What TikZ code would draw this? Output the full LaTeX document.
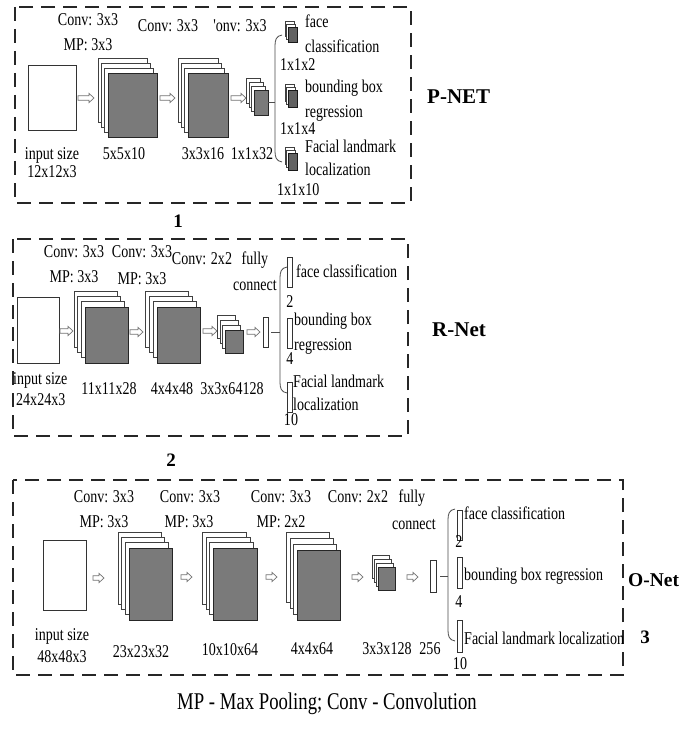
\documentclass[tikz,border=0pt]{standalone}
\usepackage{fontspec}
\setmainfont{Liberation Serif}
\newfontfamily\bodyf{Liberation Serif}[FakeStretch=0.78]
\usetikzlibrary{fit}

\newcommand\layerstack[8]{% name, x1, y1, x2, y2, back layers, dx, dy
  \foreach \k in {#6,...,1}{\draw[backlayer] ({#2-\k*#7},{#3-\k*#8}) rectangle ({#4-\k*#7},{#5-\k*#8});}
  \node[frontlayer, fit={(#2,#3) (#4,#5)}] (#1) {};
}
\newcommand\harrow[3]{% x1, x2, y
  \draw[harr] (#1,{#3-2.2}) -- ({#2-5},{#3-2.2}) -- ({#2-5},{#3-4.6}) -- (#2,#3) -- ({#2-5},{#3+4.6}) -- ({#2-5},{#3+2.2}) -- (#1,{#3+2.2}) -- cycle;
}
\newcommand\brk[3]{% x, ytop, ybot
  \draw[brace] ({#1+7},#2) .. controls ({#1+1},{#2+1}) and (#1,{#2+5}) .. (#1,{#2+11}) -- (#1,{#3-11}) .. controls (#1,{#3-5}) and ({#1+1},{#3-1}) .. ({#1+7},#3);
}

\begin{document}
\begin{tikzpicture}[x=1pt,y=-1pt,
 netbox/.style={draw=black!85, line width=2.1pt, dash pattern=on 14pt off 8pt},
 txt/.style={font=\bodyf\fontsize{18}{20}\selectfont, inner sep=0pt, text height=0.68em, text depth=0.2em},
 ttl/.style={font=\fontsize{21}{24}\selectfont\bfseries, inner sep=0pt, anchor=west},
 num/.style={font=\fontsize{19}{22}\selectfont\bfseries, inner sep=0pt},
 inbox/.style={draw=black!80, fill=white, line width=0.9pt, inner sep=0pt},
 backlayer/.style={draw=black!75, fill=white, line width=0.7pt},
 frontlayer/.style={draw=black!85, fill=black!52, line width=0.7pt, inner sep=0pt},
 cubefront/.style={draw=black!90, fill=black!62, line width=0.7pt, inner sep=0pt},
 harr/.style={draw=black!55, fill=white, line width=0.7pt},
 brace/.style={draw=black!70, line width=0.8pt},
 stub/.style={draw=black!70, line width=0.8pt},
 bar/.style={draw=black!80, fill=white, line width=0.7pt, inner sep=0pt},
]
\useasboundingbox[fill=white] (0,0) rectangle (681,730);

% ================= P-NET =================
\draw[netbox] (15,7) rectangle (411,203);
\node[txt] (pc1) at (88,23) {Conv: 3x3};
\node[txt] (pm1) at (88,48) {MP: 3x3};
\node[txt] (pc2) at (168,29) {Conv: 3x3};
\node[txt] (pc3) at (240,29) {'onv: 3x3};
\node[inbox, fit={(28,65) (76,130)}] (pin) {};
\node[txt] (pins) at (52,157) {input size};
\node[txt] (pind) at (52,175) {12x12x3};
\harrow{78}{94}{98}
\layerstack{ps1}{108}{73}{157}{137}{3}{3.3}{5}
\node[txt] (ps1l) at (124,157) {5x5x10};
\harrow{160}{175}{98}
\layerstack{ps2}{188}{73}{228}{137}{3}{3.3}{5}
\node[txt] (ps2l) at (203,157) {3x3x16};
\harrow{231}{246}{98}
\layerstack{ps3}{254}{90}{268}{115}{3}{2.5}{4}
\node[txt] (ps3l) at (252,157) {1x1x32};
\coordinate (pbk) at (275,100);
\draw[stub] (ps3.east) -- (ps3.east -| pbk);
\brk{275}{35}{162}
\foreach \k in {2,1}{\draw[backlayer] ({288-\k*1.5},{27-\k*3}) rectangle ({297-\k*1.5},{42-\k*3});}
\node[cubefront, fit={(288,27) (297,42)}] (po1) {};
\foreach \k in {2,1}{\draw[backlayer] ({288-\k*1.5},{90-\k*3}) rectangle ({297-\k*1.5},{107-\k*3});}
\node[cubefront, fit={(288,90) (297,107)}] (po2) {};
\foreach \k in {2,1}{\draw[backlayer] ({288-\k*1.5},{153-\k*3}) rectangle ({297-\k*1.5},{170-\k*3});}
\node[cubefront, fit={(288,153) (297,170)}] (po3) {};
\node[txt, anchor=west] (pt1a) at (305,25) {face};
\node[txt, anchor=west] (pt1b) at (305,50) {classification};
\node[txt, anchor=west] (pn1) at (280,68) {1x1x2};
\node[txt, anchor=west] (pt2a) at (305,90) {bounding box};
\node[txt, anchor=west] (pt2b) at (305,115) {regression};
\node[txt, anchor=west] (pn2) at (280,132) {1x1x4};
\node[txt, anchor=west] (pt3a) at (305,150) {Facial landmark};
\node[txt, anchor=west] (pt3b) at (305,173) {localization};
\node[txt, anchor=west] (pn3) at (277,193) {1x1x10};
\node[ttl] (pname) at (427,97) {P-NET};
\node[num] (n1) at (178,221) {1};

% ================= R-NET =================
\draw[netbox] (13,239) rectangle (408,436);
\node[txt] (rc1) at (74,255) {Conv: 3x3};
\node[txt] (rm1) at (74,280) {MP: 3x3};
\node[txt] (rc2) at (142,255) {Conv: 3x3};
\node[txt] (rm2) at (142,282) {MP: 3x3};
\node[txt] (rc3) at (202,262) {Conv: 2x2};
\node[txt] (rf1) at (255,262) {fully};
\node[txt] (rf2) at (255,288) {connect};
\node[inbox, fit={(17,297) (59,363)}] (rin) {};
\node[txt, anchor=west] (rins) at (13,382) {input size};
\node[txt, anchor=west] (rind) at (16,403) {24x24x3};
\harrow{60}{73}{331}
\layerstack{rs1}{85}{307}{128}{363}{3}{3.7}{5.3}
\node[txt] (rs1l) at (109,392) {11x11x28};
\harrow{130}{143}{332}
\layerstack{rs2}{157}{307}{200}{363}{3}{3.9}{5.3}
\node[txt] (rs2l) at (172,392) {4x4x48};
\harrow{203}{217}{331}
\layerstack{rs3}{225}{330}{243}{353}{3}{2.4}{5}
\node[txt] (rs3l) at (232,392) {3x3x64128};
\harrow{247}{260}{332}
\node[bar, fit={(263,317) (268,347)}] (rfc) {};
\coordinate (rbk) at (280,332);
\draw[stub] (rfc.east) ++(3,0) -- (rfc.east -| rbk);
\brk{280}{267}{393}
\node[bar, fit={(287,257) (292,287)}] (ro1) {};
\node[bar, fit={(287,318) (292,348)}] (ro2) {};
\node[bar, fit={(287,382) (292,412)}] (ro3) {};
\node[txt, anchor=west] (rt1) at (296,275) {face classification};
\node[txt] (rn1) at (290,305) {2};
\node[txt, anchor=west] (rt2a) at (294,323) {bounding box};
\node[txt, anchor=west] (rt2b) at (294,348) {regression};
\node[txt] (rn2) at (290,362) {4};
\node[txt, anchor=west] (rt3a) at (293,385) {Facial landmark};
\node[txt, anchor=west] (rt3b) at (293,408) {localization};
\node[txt] (rn3) at (291,423) {10};
\node[ttl] (rname) at (432,330) {R-Net};
\node[num] (n2) at (171,460) {2};

% ================= O-NET =================
\draw[netbox] (13,480) rectangle (623,675);
\node[txt] (oc1) at (104,500) {Conv: 3x3};
\node[txt] (om1) at (104,525) {MP: 3x3};
\node[txt] (oc2) at (190,500) {Conv: 3x3};
\node[txt] (om2) at (189,525) {MP: 3x3};
\node[txt] (oc3) at (281,500) {Conv: 3x3};
\node[txt] (om3) at (281,525) {MP: 2x2};
\node[txt] (oc4) at (358,500) {Conv: 2x2};
\node[txt] (of1) at (412,500) {fully};
\node[txt] (of2) at (414,527) {connect};
\node[inbox, fit={(43,540) (86,610)}] (oin) {};
\node[txt] (oins) at (62,638) {input size};
\node[txt] (oind) at (62,660) {48x48x3};
\harrow{93}{104}{578}
\layerstack{os1}{129}{548}{172}{620}{3}{3.6}{5.3}
\node[txt] (os1l) at (141,655) {23x23x32};
\harrow{181}{192}{577}
\layerstack{os2}{213}{548}{257}{620}{3}{3.4}{5.3}
\node[txt] (os2l) at (230,653) {10x10x64};
\harrow{266}{277}{577}
\layerstack{os3}{297}{550}{340}{620}{3}{3.4}{6}
\node[txt] (os3l) at (312,652) {4x4x64};
\harrow{352}{363}{577}
\layerstack{os4}{378}{567}{395}{590}{3}{2}{4}
\node[txt] (os4l) at (387,652) {3x3x128};
\harrow{407}{418}{577}
\node[bar, fit={(430,560) (436,592)}] (ofc) {};
\node[txt] (ofcl) at (430,652) {256};
\coordinate (obk) at (448,578);
\draw[stub] (ofc.east) ++(4,0) -- (ofc.east -| obk);
\brk{448}{509}{641}
\node[bar, fit={(457,510) (462,540)}] (oo1) {};
\node[bar, fit={(457,557) (462,588)}] (oo2) {};
\node[bar, fit={(457,620) (462,652)}] (oo3) {};
\node[txt, anchor=west] (ot1) at (464,517) {face classification};
\node[txt] (on1) at (459,545) {2};
\node[txt, anchor=west] (ot2) at (464,578) {bounding box regression};
\node[txt] (on2) at (459,605) {4};
\node[txt, anchor=west] (ot3) at (464,642) {Facial landmark localization};
\node[txt] (on3) at (460,667) {10};
\node[ttl, font=\fontsize{19.5}{22}\selectfont\bfseries] (oname) at (628,580) {O-Net};
\node[num] (n3) at (645,637) {3};

% caption
\node[txt, font=\bodyf\fontsize{24}{26}\selectfont] (cap) at (327,707) {MP - Max Pooling; Conv - Convolution};
\end{tikzpicture}
\end{document}
